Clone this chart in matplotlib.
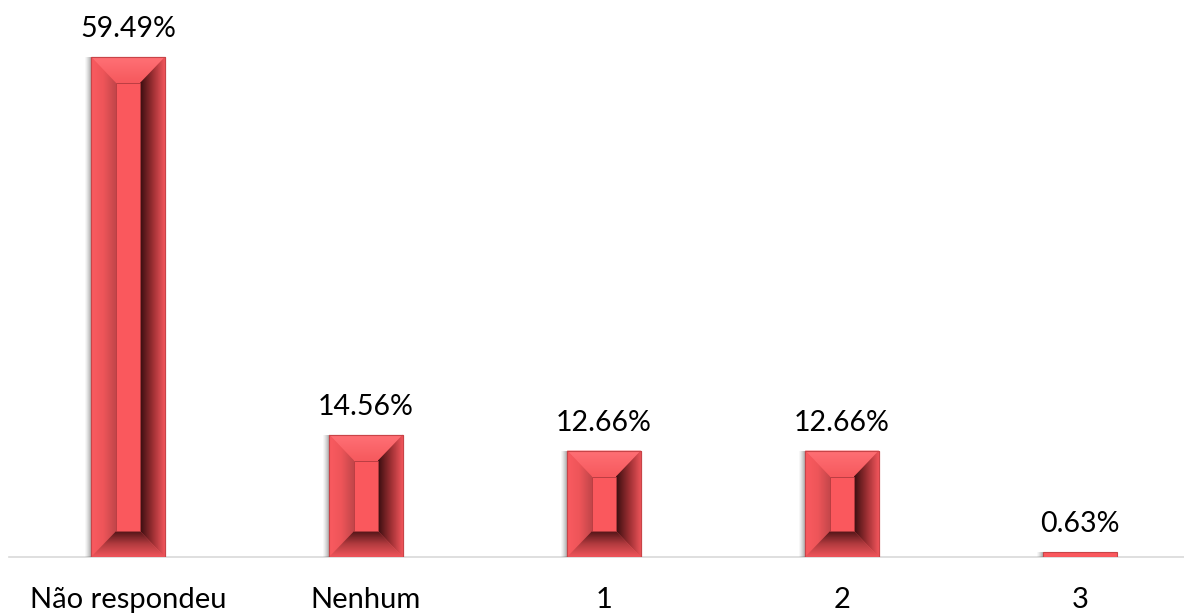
import matplotlib
matplotlib.use("Agg")
import matplotlib.pyplot as plt
import numpy as np
from matplotlib.patches import Polygon, Rectangle
from matplotlib.colors import LinearSegmentedColormap

# data
categories = ["Não respondeu", "Nenhum", "1", "2", "3"]
values = [59.49, 14.56, 12.66, 12.66, 0.63]
labels = ["59.49%", "14.56%", "12.66%", "12.66%", "0.63%"]

W, H = 1184, 614
fig = plt.figure(figsize=(W / 100, H / 100), dpi=100)
ax = fig.add_axes([9 / W, 57 / H, 1175 / W, 557 / H])
ax.set_xlim(-0.5, 4.437)
ax.set_ylim(0, 557 / (500 / 59.49))
ax.axis("off")

xs = np.arange(len(categories))
bars = ax.bar(xs, values, width=0.31, color="#FA585D", edgecolor="#C84448",
              linewidth=0.8, zorder=3)

# pixel -> data units
p0 = ax.transData.transform((0, 0))
p1 = ax.transData.transform((1, 1))
ux = 1 / (p1[0] - p0[0])
uy = 1 / (p1[1] - p0[1])

# baseline
ax.plot([-0.5, 4.437], [0, 0], color="#D9D9D9", lw=1.2, zorder=1, clip_on=False)


def grad_fill(poly, colors, direction, extent):
    cmap = LinearSegmentedColormap.from_list("g", colors)
    g = np.linspace(0, 1, 64)
    img = g[None, :] if direction == "h" else g[:, None]
    im = ax.imshow(img, cmap=cmap, extent=extent, origin="lower",
                   aspect="auto", zorder=4, interpolation="bilinear")
    ax.add_patch(poly)
    poly.set_visible(False)
    im.set_clip_path(poly)


for b, v, lab in zip(bars, values, labels):
    x0 = b.get_x()
    x1 = x0 + b.get_width()
    y1 = b.get_height()

    # soft shadow to the lower left
    for k, a in zip(range(6, 0, -1), [0.03, 0.04, 0.05, 0.06, 0.07, 0.08]):
        ax.add_patch(Rectangle((x0 - k * ux, -k * uy * 0.3), x1 - x0, y1 + k * uy * 0.3,
                               facecolor="#000000", alpha=a, lw=0, zorder=2))

    bx, by = 25 * ux, 26 * uy
    if y1 > 2 * by + 4 * uy:
        ix0, ix1 = x0 + bx, x1 - bx
        iy0, iy1 = by, y1 - by
        # top
        grad_fill(Polygon([(x0, y1), (x1, y1), (ix1, iy1), (ix0, iy1)]),
                  ["#F6595D", "#FF7075"], "v", (x0, x1, iy1, y1))
        # left
        grad_fill(Polygon([(x0, 0), (ix0, iy0), (ix0, iy1), (x0, y1)]),
                  ["#FA5B60", "#EE5559", "#C2464A"], "h", (x0, ix0, 0, y1))
        # right
        grad_fill(Polygon([(ix1, iy0), (x1, 0), (x1, y1), (ix1, iy1)]),
                  ["#3A0E10", "#9A2E32", "#F0555B"], "h", (ix1, x1, 0, y1))
        # bottom
        grad_fill(Polygon([(x0, 0), (x1, 0), (ix1, iy0), (ix0, iy0)]),
                  ["#F0555B", "#B03A3E", "#4A1214"], "v", (x0, x1, 0, iy0))
        # inner column
        ax.add_patch(Rectangle((ix0, iy0), ix1 - ix0, iy1 - iy0,
                               facecolor="#FA585D", edgecolor="#B03A3E",
                               lw=0.6, zorder=5))
        ax.add_patch(Rectangle((x0, 0), x1 - x0, y1, facecolor="none",
                               edgecolor="#C84448", lw=0.8, zorder=6))

    ax.text(b.get_x() + b.get_width() / 2, y1 + 15 * uy, lab, ha="center",
            va="bottom", fontsize=20.5, family="Lato", color="#000000")

for x, c in zip(xs, categories):
    ax.text(x, -30 * uy, c, ha="center", va="top", fontsize=21,
            family="Lato", color="#000000", clip_on=False)

fig.savefig("out.png", dpi=100)
